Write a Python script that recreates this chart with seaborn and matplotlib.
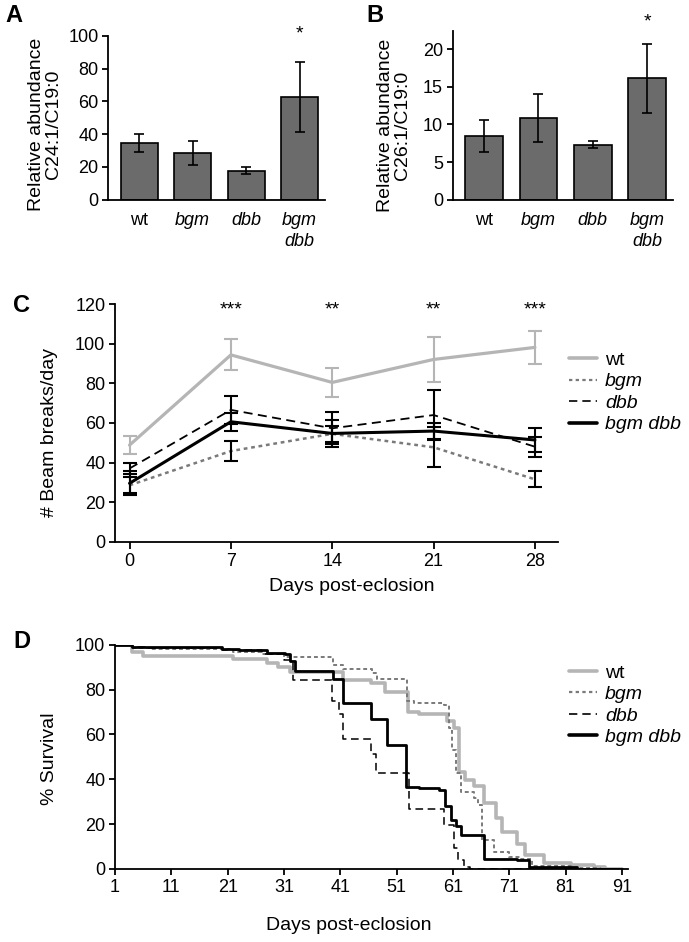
import numpy as np
import pandas as pd
import matplotlib
matplotlib.use("Agg")
import matplotlib.pyplot as plt
import seaborn as sns
from matplotlib.lines import Line2D

sns.set_style("ticks")
plt.rcParams['font.family'] = ['Liberation Sans', 'DejaVu Sans']
plt.rcParams.update({'text.color': 'black', 'axes.labelcolor': 'black',
                     'xtick.color': 'black', 'ytick.color': 'black',
                     'axes.edgecolor': 'black'})

# ---- data ----
genotypes = ['wt', 'bgm', 'dbb', 'bgm dbb']
bar_labels = ['wt', 'bgm', 'dbb', 'bgm\ndbb']

# Panel A: C24:1/C19:0
c24_mean = [34.3, 28.4, 17.6, 62.9]
c24_err = [5.5, 7.5, 2.1, 21.3]

# Panel B: C26:1/C19:0
c26_mean = [8.5, 10.9, 7.3, 16.1]
c26_err = [2.1, 3.2, 0.45, 4.6]

# Panel C: beam breaks per day
c_days = [0, 7, 14, 21, 28]
beam_wt = [48.8, 94.4, 80.5, 92.1, 98.2]
beam_wt_err = [4.6, 7.8, 7.3, 11.5, 8.4]
beam_bgm = [28.5, 45.8, 54.5, 47.7, 31.5]
beam_bgm_err = [4.0, 5.0, 4.0, 10.1, 4.0]
beam_dbb = [37.0, 66.6, 57.3, 64.0, 48.0]
beam_dbb_err = [3.0, 7.2, 8.0, 12.6, 5.0]
beam_bgmdbb = [29.5, 60.6, 54.7, 55.9, 51.4]
beam_bgmdbb_err = [6.0, 4.5, 7.0, 4.0, 6.0]
star_days = [7, 14, 21, 28]
c_stars = ['***', '**', '**', '***']

# Panel D: survival (step points, day -> % alive)
wt_days = [1, 4, 6, 22, 28, 30, 32, 41.4, 46.4, 49, 53, 55, 60, 61.2, 62, 63.2, 64.7, 66.5, 68.6, 69.7, 72.4, 73.7, 77.1, 82, 86, 88, 91]
wt_surv = [100, 97, 95, 93.5, 92, 90, 88, 84.4, 83, 79, 70, 69, 66, 63, 43.4, 39.7, 36.9, 29.5, 22.8, 16.4, 11, 6.3, 2.8, 2, 1, 0, 0]
bgm_days = [1, 4, 7, 22, 27, 31, 39.6, 41.5, 46.7, 47.5, 52.9, 54, 59.4, 60.2, 60.9, 61.6, 62.4, 64.7, 65.5, 66.2, 68.3, 70.9, 73, 75, 82, 87, 91]
bgm_surv = [100, 98.5, 98, 97, 96, 94.4, 91, 89, 87.6, 84.6, 75, 74, 73, 63, 53, 43, 34.5, 31.7, 28.6, 13, 7.7, 5.5, 4.5, 1.5, 0.5, 0, 0]
dbb_days = [1, 4, 7, 20, 27, 31, 32.5, 39.5, 40.7, 41.4, 46.4, 47.4, 49.2, 53.2, 58.8, 59.4, 61.2, 61.8, 63, 64, 91]
dbb_surv = [100, 99, 98.5, 97.5, 96, 93, 84.4, 75, 69, 57.9, 51.3, 43, 43, 26.6, 26.6, 19.6, 9.2, 4, 1, 0, 0]
bgmdbb_days = [1, 4, 7, 20, 23, 28, 31.1, 32, 33, 39.6, 41.4, 46.4, 47.3, 49.3, 52.6, 55, 58.5, 59.5, 60.6, 61.5, 62.4, 65.6, 66.5, 72.4, 74.5, 83, 91]
bgmdbb_surv = [100, 99, 98.8, 98, 97.6, 96.5, 96, 92.6, 88.4, 84.6, 74, 67, 67, 55.3, 36.7, 36, 35.3, 28, 22, 19, 15, 15, 4.5, 4, 1, 0, 0]

wt_col = '#b5b5b5'
bgm_col = '#7a7a7a'
bar_col = '#6b6b6b'

fig = plt.figure(figsize=(6.89, 9.42), dpi=100)

tick_fs = 13
lab_fs = 14


def style_axis(ax):
    sns.despine(ax=ax)
    ax.spines['left'].set_linewidth(1.3)
    ax.spines['bottom'].set_linewidth(1.3)
    ax.tick_params(axis='both', labelsize=tick_fs, width=1.3, length=4, pad=3, direction='out')


# ---- Panel A and B: bars ----
def bar_panel(rect, means, errs, ylim, yticks, ylabel, star_y, label_xy):
    ax = fig.add_axes(rect)
    sns.barplot(x=genotypes, y=means, color=bar_col, edgecolor='black',
                linewidth=1.2, width=0.69, saturation=1, ax=ax)
    ax.errorbar(range(4), means, yerr=errs, fmt='none', ecolor='black',
                elinewidth=1.2, capsize=3.4, capthick=1.2)
    style_axis(ax)
    ax.set_ylim(*ylim)
    ax.set_yticks(yticks)
    ax.set_xlim(-0.58, 3.48)
    ax.set_xticks(range(4))
    ax.set_xticklabels(bar_labels)
    ax.tick_params(axis='x', length=0, pad=9)
    for t in ax.get_xticklabels()[1:]:
        t.set_fontstyle('italic')
    for t in ax.get_xticklabels():
        t.set_linespacing(1.3)
    ax.set_ylabel(ylabel, fontsize=lab_fs, linespacing=1.0)
    ax.yaxis.set_label_coords(*label_xy)
    ax.text(3, star_y, '*', ha='center', va='center', fontsize=14, clip_on=False)
    return ax


axA = bar_panel([0.157, 0.788, 0.315, 0.174], c24_mean, c24_err, (0, 100),
                [0, 20, 40, 60, 80, 100], 'Relative abundance\nC24:1/C19:0', 101, (-0.215, 0.46))
axB = bar_panel([0.657, 0.788, 0.32, 0.1787], c26_mean, c26_err, (0, 22.35),
                [0, 5, 10, 15, 20], 'Relative abundance\nC26:1/C19:0', 23.6, (-0.19, 0.44))

# ---- Panel C: beam breaks ----
axC = fig.add_axes([0.167, 0.425, 0.643, 0.252])
c_series = [
    (beam_wt, beam_wt_err, wt_col, '-', 2.3, wt_col),
    (beam_bgm, beam_bgm_err, bgm_col, (0, (1.5, 1.5)), 1.8, 'black'),
    (beam_dbb, beam_dbb_err, 'black', (0, (5, 3)), 1.3, 'black'),
    (beam_bgmdbb, beam_bgmdbb_err, 'black', '-', 2.2, 'black'),
]
for vals, errs, col, ls, lw, ecol in c_series:
    sns.lineplot(x=c_days, y=vals, color=col, linestyle=ls, linewidth=lw, ax=axC)
    axC.errorbar(c_days, vals, yerr=errs, fmt='none', ecolor=ecol,
                 elinewidth=1.5, capsize=4.7, capthick=1.5)
style_axis(axC)
axC.set_xlim(-1, 29.6)
axC.set_ylim(0, 120)
axC.set_xticks(c_days)
axC.set_yticks(range(0, 121, 20))
axC.tick_params(axis='x', length=5)
axC.set_xlabel('Days post-eclosion', fontsize=lab_fs)
axC.set_ylabel('# Beam breaks/day', fontsize=lab_fs)
axC.xaxis.set_label_coords(0.534, -0.155)
axC.yaxis.set_label_coords(-0.128, 0.46)
for d, s in zip(star_days, c_stars):
    axC.text(d, 117, s, ha='center', va='center', fontsize=14, clip_on=False)

# ---- Panel D: survival ----
axD = fig.add_axes([0.167, 0.0775, 0.744, 0.238])
d_series = [
    (wt_days, wt_surv, wt_col, '-', 2.6),
    (bgm_days, bgm_surv, bgm_col, (0, (2, 1.5)), 1.4),
    (dbb_days, dbb_surv, 'black', (0, (5, 3)), 1.1),
    (bgmdbb_days, bgmdbb_surv, 'black', '-', 2.0),
]
for days, surv, col, ls, lw in d_series:
    sns.lineplot(x=days, y=surv, color=col, linestyle=ls, linewidth=lw,
                 drawstyle='steps-post', ax=axD)
style_axis(axD)
axD.set_xlim(1, 92)
axD.set_ylim(0, 100)
axD.set_xticks(range(1, 92, 10))
axD.set_yticks(range(0, 101, 20))
axD.set_xlabel('Days post-eclosion', fontsize=lab_fs)
axD.set_ylabel('% Survival', fontsize=lab_fs)
axD.xaxis.set_label_coords(0.456, -0.215)
axD.yaxis.set_label_coords(-0.112, 0.49)

# ---- legends ----
leg_styles = [(wt_col, '-', 2.6), (bgm_col, (0, (1.5, 1.5)), 1.6),
              ('black', (0, (5, 3)), 1.2), ('black', '-', 2.6)]
for anchor in [(0.826, 0.627), (0.826, 0.295)]:
    handles = [Line2D([], [], color=c, linestyle=ls, linewidth=lw) for c, ls, lw in leg_styles]
    leg = fig.legend(handles, genotypes, loc='upper left', bbox_to_anchor=anchor,
                     frameon=False, fontsize=lab_fs, handlelength=1.45,
                     handletextpad=0.4, labelspacing=0.2, borderpad=0, borderaxespad=0)
    for t in leg.get_texts()[1:]:
        t.set_fontstyle('italic')

# ---- panel letters ----
for lab, x, y in [('A', 5, 4), ('B', 366, 4), ('C', 13, 294), ('D', 13, 630)]:
    fig.text(x / 689, 1 - y / 942, lab, fontsize=17, fontweight='bold', ha='left', va='top')

fig.savefig('out.png', dpi=100)
